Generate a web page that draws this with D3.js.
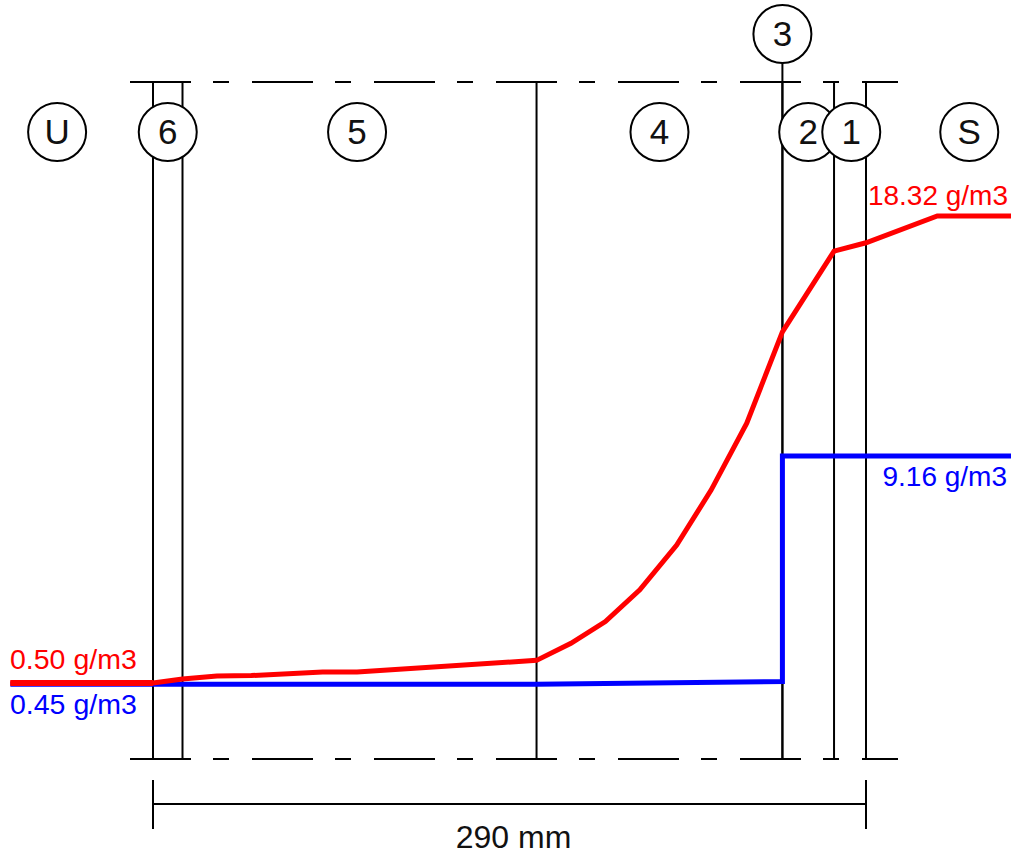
<!DOCTYPE html>
<html>
<head>
<meta charset="utf-8">
<script src="https://cdn.jsdelivr.net/npm/d3@7"></script>
<style>
  html, body { margin: 0; padding: 0; background: #fff; }
  svg { display: block; font-family: "Liberation Sans", Arial, sans-serif; }
</style>
</head>
<body>
<svg id="chart" width="1011" height="856"></svg>
<script>
// ---- data ----
const totalThickness = 290;                       // mm
const layerBounds = [0, 12, 156, 256, 277, 290];  // mm, layer boundaries
const barrierPos = 256;                            // mm, layer 3 (membrane)

const circleLabels = ["U", "6", "5", "4", "2", "1", "S", "3"];
const circlePos    = [-39, 6, 83, 206, 266.5, 284, 332, 256];
const circleRow    = ["main", "main", "main", "main", "main", "main", "main", "top"];

// saturation vapour concentration (red), g/m3
const redX = [-58, 0, 12, 26, 40, 69, 83, 156, 170, 184, 198, 213, 227, 241.5, 256, 277, 290, 319, 349];
const redY = [0.50, 0.50, 0.65, 0.76, 0.78, 0.92, 0.92, 1.36, 2.01, 2.84, 4.05, 5.76, 7.86, 10.41, 13.9, 16.98, 17.30, 18.32, 18.32];

// actual vapour concentration (blue), g/m3
const blueX = [-58, 156, 256, 256, 349];
const blueY = [0.45, 0.45, 0.55, 9.16, 9.16];

const valueLabels = ["0.50 g/m3", "0.45 g/m3", "18.32 g/m3", "9.16 g/m3"];
const dimLabel = "290 mm";

// ---- scales ----
const svg = d3.select("#chart");
const x = d3.scaleLinear().domain([0, totalThickness]).range([153, 866]);
const y = d3.scaleLinear().domain([0, 20]).range([696, 172]);

const topY = 82, botY = 759;
const black = "#000";

// dashed frame lines
[topY, botY].forEach(yy => {
  svg.append("line")
    .attr("x1", 130).attr("x2", 898).attr("y1", yy).attr("y2", yy)
    .attr("stroke", black).attr("stroke-width", 2)
    .attr("stroke-dasharray", "61,22,16,23");
});

// layer boundary verticals
layerBounds.forEach(b => {
  svg.append("line")
    .attr("x1", x(b)).attr("x2", x(b)).attr("y1", topY).attr("y2", botY)
    .attr("stroke", black).attr("stroke-width", 2);
});
// membrane line up to circle 3
svg.append("line")
  .attr("x1", x(barrierPos)).attr("x2", x(barrierPos)).attr("y1", 60).attr("y2", botY)
  .attr("stroke", black).attr("stroke-width", 2);

// dimension line
const dimY = 804;
svg.append("line").attr("x1", x(0)).attr("x2", x(totalThickness))
  .attr("y1", dimY).attr("y2", dimY).attr("stroke", black).attr("stroke-width", 2);
[0, totalThickness].forEach(v => {
  svg.append("line").attr("x1", x(v)).attr("x2", x(v))
    .attr("y1", 780).attr("y2", 829).attr("stroke", black).attr("stroke-width", 2);
});
svg.append("text").attr("x", (x(0) + x(totalThickness)) / 2 + 4).attr("y", 848)
  .attr("text-anchor", "middle").attr("font-size", 32).attr("fill", "#111")
  .text(dimLabel);

// circles (layer markers)
const circleData = circleLabels.map((l, i) => ({ l, p: circlePos[i], row: circleRow[i] }));
const cg = svg.selectAll("g.circ").data(circleData).join("g")
  .attr("transform", d => `translate(${x(d.p)},${d.row === "top" ? 34 : 132})`);
cg.append("circle").attr("r", 29).attr("fill", "#fff")
  .attr("stroke", black).attr("stroke-width", 2);
cg.append("text").attr("y", 11.5).attr("text-anchor", "middle")
  .attr("font-size", 35).attr("fill", "#111").text(d => d.l);

// curves
const line = d3.line().x(d => x(d[0])).y(d => y(d[1]));
svg.append("path").datum(blueX.map((v, i) => [v, blueY[i]]))
  .attr("d", line).attr("fill", "none").attr("stroke", "#0000ff").attr("stroke-width", 5);
svg.append("path").datum(redX.map((v, i) => [v, redY[i]]))
  .attr("d", line).attr("fill", "none").attr("stroke", "#ff0000").attr("stroke-width", 5);
// thicker exterior-side segment
svg.append("path").datum(redX.slice(0, 2).map((v, i) => [v, redY[i]]))
  .attr("d", line).attr("fill", "none").attr("stroke", "#ff0000").attr("stroke-width", 6);

// value labels
svg.append("text").attr("x", 10).attr("y", 669).attr("font-size", 28.5)
  .attr("fill", "#ff0000").text(valueLabels[0]);
svg.append("text").attr("x", 10).attr("y", 714).attr("font-size", 28.5)
  .attr("fill", "#0000ff").text(valueLabels[1]);
svg.append("text").attr("x", 1008).attr("y", 205).attr("font-size", 28)
  .attr("text-anchor", "end").attr("fill", "#ff0000").text(valueLabels[2]);
svg.append("text").attr("x", 1007).attr("y", 486).attr("font-size", 28)
  .attr("text-anchor", "end").attr("fill", "#0000ff").text(valueLabels[3]);
</script>
</body>
</html>
